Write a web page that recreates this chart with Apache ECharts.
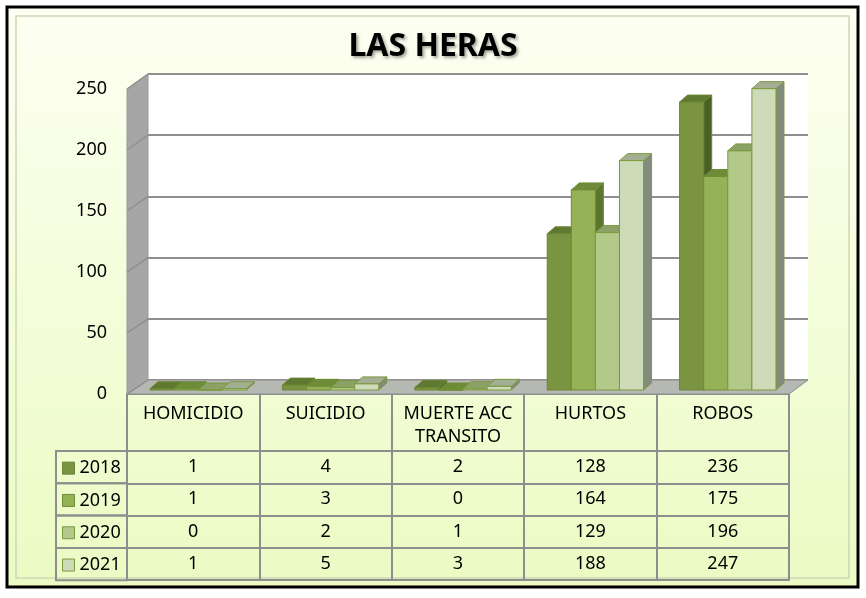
<!DOCTYPE html>
<html>
<head>
<meta charset="utf-8">
<script src="https://cdn.jsdelivr.net/npm/echarts@6/dist/echarts.min.js"></script>
<style>
  html, body { margin: 0; padding: 0; background: #fff; }
  #chart { width: 866px; height: 598px; }
</style>
</head>
<body>
<div id="chart"></div>
<script>
// data
var categories = ['HOMICIDIO', 'SUICIDIO', 'MUERTE ACC\nTRANSITO', 'HURTOS', 'ROBOS'];
var years = ['2018', '2019', '2020', '2021'];
var v2018 = [1, 4, 2, 128, 236];
var v2019 = [1, 3, 0, 164, 175];
var v2020 = [0, 2, 1, 129, 196];
var v2021 = [1, 5, 3, 188, 247];
var yMin = 0, yMax = 250, yStep = 50;

var rows = [v2018, v2019, v2020, v2021];

// layout
var FRONT = { left: 127, top: 89, width: 662, height: 305 };
var BACK = { left: 148, top: 74, width: 660, height: 306 };
var BARS = { left: 132, top: 85, width: 662, height: 305 };
var HEAD = 57, ROW = 32.3;
var FONT = "'Noto Sans', sans-serif";
var LINE = '#8e8e8e';

var barColors = [
    { face: '#7a9441', top: '#5f7a30', side: '#4b6027', line: '#6a8535' },
    { face: '#95b256', top: '#6e8c37', side: '#5b772c', line: '#6f8c36' },
    { face: '#b3c98a', top: '#8ba165', side: '#7b8f5a', line: '#7a9a3f' },
    { face: '#cddbb8', top: '#a3ae92', side: '#838b7c', line: '#7a9a3f' }
];

function renderBar(s) {
    return function (params, api) {
        var ci = api.value(0), v = api.value(1);
        var p0 = api.coord([ci, 0]), p1 = api.coord([ci, v]);
        var bw = api.size([1, 0])[0] * 0.182;
        var x0 = p0[0] - 2 * bw + s * bw, x1 = x0 + bw;
        var yb = p0[1], yt = p1[1];
        var dx = 8, dy = -7;
        var c = barColors[s];
        return {
            type: 'group',
            children: [
                { type: 'polygon', shape: { points: [[x1, yt], [x1 + dx, yt + dy], [x1 + dx, yb + dy], [x1, yb]] },
                  style: { fill: c.side, stroke: c.line, lineWidth: 1 } },
                { type: 'polygon', shape: { points: [[x0, yt], [x1, yt], [x1 + dx, yt + dy], [x0 + dx, yt + dy]] },
                  style: { fill: c.top, stroke: c.line, lineWidth: 1 } },
                { type: 'rect', shape: { x: x0, y: yt, width: bw, height: yb - yt },
                  style: { fill: c.face, stroke: c.line, lineWidth: 1 } }
            ]
        };
    };
}

function cellTicks(len) {
    return { show: true, interval: 0, alignWithLabel: false, inside: false, length: len,
             lineStyle: { color: LINE, width: 2 } };
}

var xAxes = [];
// header row with category names
xAxes.push({
    type: 'category', gridIndex: 0, data: categories, position: 'bottom',
    axisLine: { show: true, lineStyle: { color: LINE, width: 2 } },
    axisTick: cellTicks(HEAD),
    axisLabel: { interval: 0, color: '#000', fontSize: 18, fontFamily: FONT, lineHeight: 23, margin: 8 }
});
// one row per year
rows.forEach(function (vals, i) {
    xAxes.push({
        type: 'category', gridIndex: 0, data: categories, position: 'bottom',
        offset: HEAD + i * ROW,
        axisLine: { show: true, lineStyle: { color: LINE, width: 2 } },
        axisTick: cellTicks(ROW),
        axisLabel: {
            interval: 0, color: '#000', fontSize: 18, fontFamily: FONT, lineHeight: 20, margin: 6,
            formatter: function (val, idx) { return String(vals[idx]); }
        }
    });
});
// bottom border of the table
xAxes.push({
    type: 'category', gridIndex: 0, data: categories, position: 'bottom',
    offset: HEAD + 4 * ROW,
    axisLine: { show: true, lineStyle: { color: LINE, width: 2 } },
    axisTick: { show: false }, axisLabel: { show: false }
});
// back wall and bars
xAxes.push({ type: 'category', gridIndex: 1, data: categories, show: false });
xAxes.push({ type: 'category', gridIndex: 2, data: categories, show: false });

var yBase = { type: 'value', min: yMin, max: yMax, interval: yStep };

var series = years.map(function (y, s) {
    return {
        name: y, type: 'custom', xAxisIndex: 7, yAxisIndex: 2,
        itemStyle: { color: barColors[s].face, borderColor: barColors[s].line },
        encode: { x: 0, y: 1 },
        renderItem: renderBar(s),
        data: rows[s].map(function (v, i) { return [i, v]; })
    };
});

var chart = echarts.init(document.getElementById('chart'));

var option = {
    animation: false,
    title: {
        text: 'LAS HERAS', left: 'center', top: 26,
        textStyle: {
            fontSize: 32, fontWeight: 'bold', color: '#000',
            fontFamily: "'Liberation Sans Narrow', 'Noto Sans', sans-serif",
            textShadowColor: 'rgba(0,0,0,0.35)', textShadowBlur: 3,
            textShadowOffsetX: 2, textShadowOffsetY: 2
        }
    },
    legend: {
        orient: 'vertical', left: 62, top: 394 + HEAD + (ROW - 20) / 2 + 1,
        padding: 0,
        itemWidth: 12, itemHeight: 12, itemGap: ROW - 20,
        selectedMode: false,
        textStyle: { color: '#000', fontSize: 18, fontFamily: FONT, lineHeight: 20 },
        data: years.map(function (y, s) {
            return { name: y, icon: 'rect',
                     itemStyle: { color: barColors[s].face, borderColor: barColors[s].line, borderWidth: 1 } };
        })
    },
    grid: [
        { left: FRONT.left, top: FRONT.top, width: FRONT.width, height: FRONT.height },
        { left: BACK.left, top: BACK.top, width: BACK.width, height: BACK.height,
          show: true, backgroundColor: '#fff', borderWidth: 0 },
        { left: BARS.left, top: BARS.top, width: BARS.width, height: BARS.height }
    ],
    xAxis: xAxes,
    yAxis: [
        Object.assign({}, yBase, {
            gridIndex: 0,
            axisLine: { show: false }, axisTick: { show: false }, splitLine: { show: false },
            axisLabel: { color: '#000', fontSize: 18, fontFamily: FONT, margin: 20 }
        }),
        Object.assign({}, yBase, {
            gridIndex: 1,
            axisLine: { show: false }, axisTick: { show: false }, axisLabel: { show: false },
            splitLine: { lineStyle: { color: '#8f8f8f', width: 2 } }
        }),
        Object.assign({}, yBase, { gridIndex: 2, show: false })
    ],
    series: series
};

chart.setOption(option);

// frame, floor and left wall
var fBottom = FRONT.top + FRONT.height, bBottom = BACK.top + BACK.height;
var graphics = [
    { type: 'rect', z: -10, shape: { x: 7, y: 7, width: 851, height: 580 },
      style: { stroke: '#000', lineWidth: 3,
               fill: new echarts.graphic.LinearGradient(0, 0, 0, 1, [
                   { offset: 0, color: '#fdfff2' }, { offset: 1, color: '#ebfbc3' }]) } },
    { type: 'rect', z: -9, shape: { x: 16, y: 16, width: 833, height: 562 },
      style: { fill: 'none', stroke: '#cfd6b6', lineWidth: 1.5 } },
    { type: 'polygon', z: 1,
      shape: { points: [[FRONT.left, fBottom], [FRONT.left + FRONT.width, fBottom],
                        [BACK.left + BACK.width, bBottom], [BACK.left, bBottom]] },
      style: { fill: '#b6b8b3', stroke: '#8e8e8e', lineWidth: 1 } },
    { type: 'polygon', z: 1,
      shape: { points: [[FRONT.left, FRONT.top], [BACK.left, BACK.top],
                        [BACK.left, bBottom], [FRONT.left, fBottom]] },
      style: { fill: '#a6a6a6', stroke: '#9a9a9a', lineWidth: 1 } }
];
for (var t = yMin; t <= yMax; t += yStep) {
    var yf = chart.convertToPixel({ yAxisIndex: 0 }, t);
    var yb = chart.convertToPixel({ yAxisIndex: 1 }, t);
    graphics.push({ type: 'line', z: 1, shape: { x1: FRONT.left, y1: yf, x2: BACK.left, y2: yb },
                    style: { stroke: '#8f8f8f', lineWidth: 1.5 } });
}
rows.forEach(function (vals, i) {
    graphics.push({ type: 'rect', z: 1,
        shape: { x: 56, y: fBottom + HEAD + i * ROW, width: FRONT.left - 56, height: ROW },
        style: { fill: 'none', stroke: LINE, lineWidth: 2 } });
});
chart.setOption({ graphic: graphics });
</script>
</body>
</html>
